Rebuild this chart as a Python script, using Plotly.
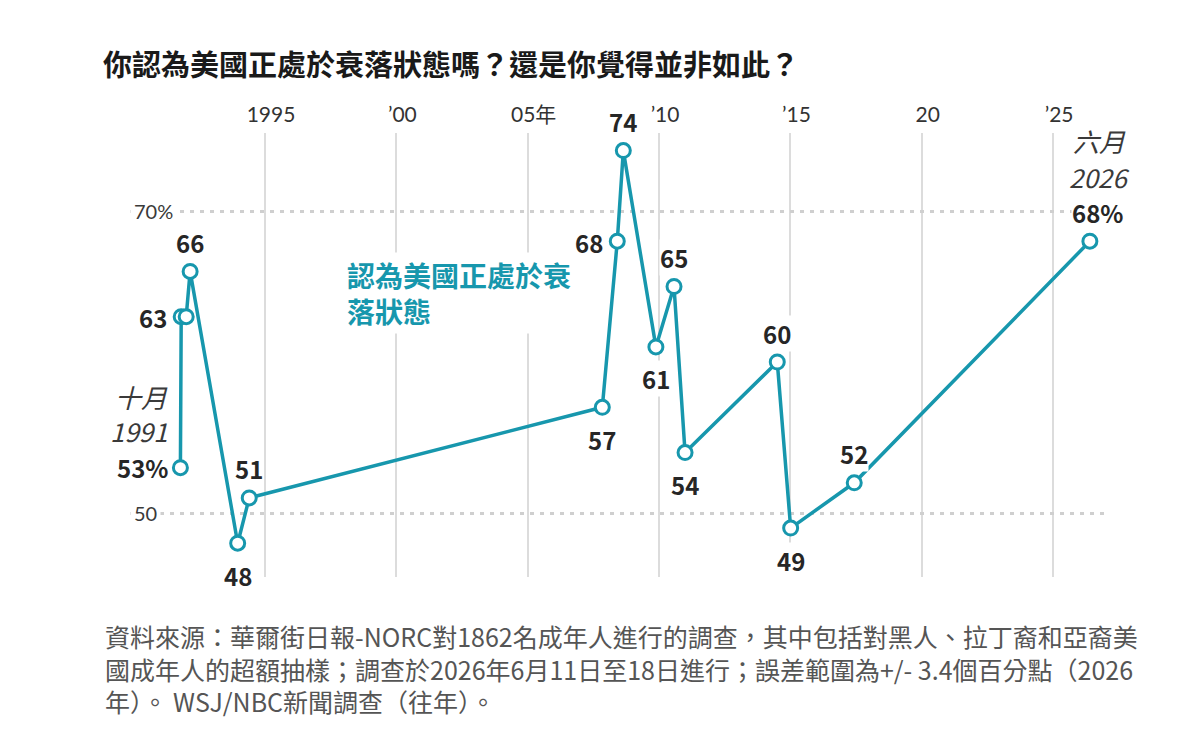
import plotly.graph_objects as go

# ---- data ----
years = [1991.78, 1991.81, 1992.0, 1992.15, 1993.96, 1994.40, 2007.84, 2008.41, 2008.64,
         2009.88, 2010.57, 2010.99, 2014.50, 2015.01, 2017.43, 2026.40]
values = [53, 63, 63, 66, 48, 51, 57, 68, 74, 61, 65, 54, 60, 49, 52, 68]
label_pos = ["none", "left", "none", "top", "bottom", "top", "bottom", "left", "top",
             "bottom", "top", "bottom", "top", "bottom", "top", "none"]

x_tickvals = [1995, 2000, 2005, 2010, 2015, 2020, 2025]
x_ticktext = ["1995", "’00", "05年", "’10", "’15", "20", "’25"]
y_tickvals = [50, 70]
y_ticktext = ["50", "70%"]

title_text = "你認為美國正處於衰落狀態嗎？還是你覺得並非如此？"
series_label = "認為美國正處於衰<br>落狀態"
first_label = ["十月", "1991", "53%"]
last_label = ["六月", "2026", "68%"]
source_text = ("資料來源：華爾街日報-NORC對1862名成年人進行的調查，其中包括對黑人、拉丁裔和亞裔美<br>"
               "國成年人的超額抽樣；調查於2026年6月11日至18日進行；誤差範圍為+/- 3.4個百分點（2026<br>"
               "年）。 WSJ/NBC新聞調查（往年）。")

TEAL = "#1797ad"
FONT = "Noto Sans CJK TC"
TICKFONT = "Lato, Noto Sans CJK TC"
DARK = "#262626"

fig = go.Figure()
fig.add_trace(go.Scatter(
    x=years, y=values, mode="lines+markers",
    line=dict(color=TEAL, width=3.5),
    marker=dict(size=14, color="white", line=dict(color=TEAL, width=3)),
    cliponaxis=False, hoverinfo="skip", showlegend=False,
))

annotations = []
for xv, yv, pos in zip(years, values, label_pos):
    if pos == "none":
        continue
    a = dict(x=xv, y=yv, xref="x", yref="y", text=f"<b>{yv}</b>", showarrow=False,
             font=dict(family=FONT, size=24, color=DARK), bgcolor="white", borderpad=0)
    if pos == "top":
        a.update(yshift=29)
    elif pos == "bottom":
        a.update(yshift=-32)
    elif pos == "left":
        a.update(xanchor="right", xshift=-13, yshift=-1)
    annotations.append(a)

# first point label (Oct 1991)
for i, (txt, dy) in enumerate(zip(first_label, [71, 37, 0])):
    t = f"<i>{txt}</i>" if i < 2 else f"<b>{txt}</b>"
    col = "#3a3a3a" if i < 2 else DARK
    annotations.append(dict(x=years[0], y=values[0], xref="x", yref="y", text=t,
                            showarrow=False, xanchor="right", xshift=-11, yshift=dy,
                            font=dict(family=FONT, size=26 if i < 2 else 24, color=col),
                            bgcolor="white", borderpad=0))
# last point label (Jun 2026)
for i, (txt, dy) in enumerate(zip(last_label, [101, 65, 29])):
    t = f"<i>{txt}</i>" if i < 2 else f"<b>{txt}</b>"
    col = "#3a3a3a" if i < 2 else DARK
    annotations.append(dict(x=years[-1], y=values[-1], xref="x", yref="y", text=t,
                            showarrow=False, xshift=10 if i < 2 else 8, yshift=dy,
                            font=dict(family=FONT, size=26 if i < 2 else 24, color=col),
                            bgcolor="white", borderpad=0))

# y tick labels
for v, t in zip(y_tickvals, y_ticktext):
    annotations.append(dict(x=0, y=v, xref="paper", yref="y", text=t, showarrow=False,
                            xanchor="left", font=dict(family=TICKFONT, size=20, color="#3a3a3a"),
                            bgcolor="white", borderpad=3))

# series label
annotations.append(dict(x=1998.0, y=64.6, xref="x", yref="y", text=f"<b>{series_label}</b>",
                        showarrow=False, xanchor="left", align="left",
                        font=dict(family=FONT, size=28, color=TEAL), bgcolor="white", borderpad=2))

# source
W, H = 1200, 731
ml, mr, mt, mb = 130, 95, 133, 154
pw, ph = W - ml - mr, H - mt - mb
annotations.append(dict(x=(103 - ml) / pw, y=(H - mb - 616) / ph, xref="paper", yref="paper",
                        text=source_text, showarrow=False, xanchor="left", yanchor="top",
                        align="left", font=dict(family=FONT, size=25, color="#555555")))

x0 = 1995 - (265 - ml) / 26.27
x1 = x0 + pw / 26.27
y1 = 70 + (211 - mt) / 15.1
y0 = y1 - ph / 15.1

fig.update_layout(
    width=W, height=H, margin=dict(l=ml, r=mr, t=mt, b=mb),
    paper_bgcolor="white", plot_bgcolor="white",
    title=dict(text=f"<b>{title_text}</b>", x=103 / W, xanchor="left", xref="container",
               y=1 - 66 / H, yanchor="middle", yref="container",
               font=dict(family=FONT, size=29, color="#1a1a1a")),
    xaxis=dict(range=[x0, x1], side="top", tickvals=x_tickvals, ticktext=x_ticktext,
               showgrid=True, gridcolor="#dcdcdc", gridwidth=1.5, zeroline=False,
               showline=False, ticks="", tickfont=dict(family=TICKFONT, size=21, color="#333333"),
               ticklabelstandoff=6, ticklabelshift=6, fixedrange=True),
    yaxis=dict(range=[y0, y1], tickvals=y_tickvals, showticklabels=False,
               showgrid=True, gridcolor="#cfcfcf", gridwidth=3, griddash="4px,6px",
               zeroline=False, showline=False, ticks="", fixedrange=True),
    annotations=annotations,
    font=dict(family=FONT),
)

fig.write_html("out.html")
